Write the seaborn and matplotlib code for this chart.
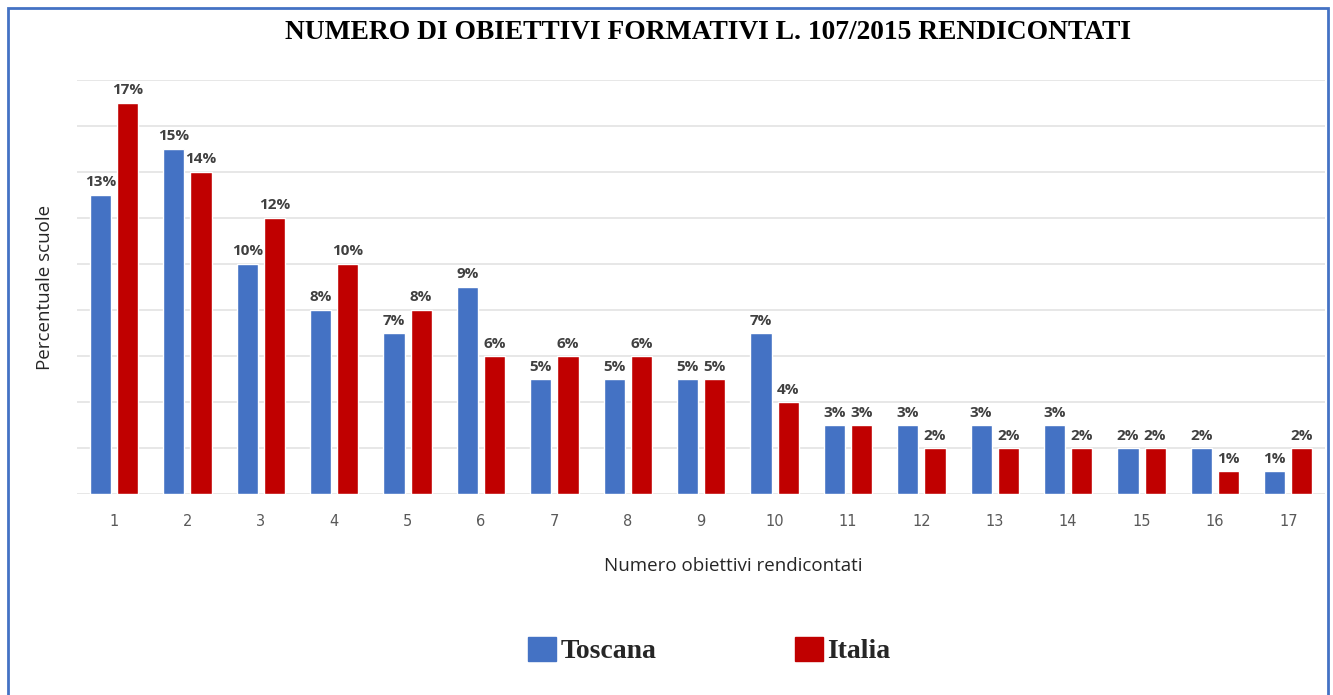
import matplotlib
matplotlib.use('Agg')
import matplotlib.pyplot as plt
import matplotlib.patches as mpatches
import seaborn as sns
import numpy as np
import pandas as pd

# data
obiettivi = [str(i) for i in range(1, 18)]
toscana = [13, 15, 10, 8, 7, 9, 5, 5, 5, 7, 3, 3, 3, 3, 2, 2, 1]
italia = [17, 14, 12, 10, 8, 6, 6, 6, 5, 4, 3, 2, 2, 2, 2, 1, 2]
serie = ['Toscana', 'Italia']
colori = ['#4472C4', '#C00000']

df = pd.DataFrame({
    'obiettivi': obiettivi * 2,
    'valore': toscana + italia,
    'serie': ['Toscana'] * len(toscana) + ['Italia'] * len(italia),
})

sns.set_style('white')
plt.rcParams['font.family'] = ['DejaVu Sans']

fig = plt.figure(figsize=(13.33, 6.95), dpi=100)
ax = fig.add_axes([0.058, 0.289, 0.936, 0.596])

sns.barplot(data=df, x='obiettivi', y='valore', hue='serie',
            hue_order=serie, palette=colori, width=0.74, gap=0.22,
            order=obiettivi, ax=ax, legend=False, saturation=1)

for cont in ax.containers:
    ax.bar_label(cont, labels=[f'{v:.0f}%' for v in cont.datavalues],
                 padding=4, fontsize=11, fontweight='bold', color='#404040',
                 family='Open Sans')

ax.set_ylim(0, 18)
ax.set_yticks(np.arange(0, 19, 2))
ax.set_yticklabels([])
ax.tick_params(axis='y', length=0)
ax.tick_params(axis='x', length=0, labelsize=10.5, labelcolor='#595959', pad=14)
ax.yaxis.grid(True, color='#e3e3e3', linewidth=1.2)
ax.set_axisbelow(True)
for s in ax.spines.values():
    s.set_visible(False)
ax.set_xlim(-0.5, 16.5)

ax.set_xlabel('Numero obiettivi rendicontati', fontsize=13.5, color='#262626',
              family='Open Sans')
ax.set_ylabel('Percentuale scuole', fontsize=13.5, color='#262626',
              family='Open Sans')
ax.xaxis.set_label_coords(0.526, -0.152)
ax.yaxis.set_label_coords(-0.019, 0.5)

fig.text(0.531, 0.953, 'NUMERO DI OBIETTIVI FORMATIVI L. 107/2015 RENDICONTATI',
         ha='center', va='center', fontsize=19.8, fontweight='bold',
         family='Liberation Serif', color='black')

handles = [mpatches.Patch(color=c, label=s) for s, c in zip(serie, colori)]
fig.legend(handles=handles, loc='center', bbox_to_anchor=(0.532, 0.064),
           ncol=2, frameon=False, handlelength=1.0, handleheight=1.0,
           handletextpad=0.15, columnspacing=5.0,
           prop={'family': 'Liberation Serif', 'weight': 'bold', 'size': 20})

# outer blue frame
fig.patches.append(mpatches.Rectangle((0.006, -0.01), 0.99, 0.998,
                                      transform=fig.transFigure, fill=False,
                                      edgecolor='#4472C4', linewidth=2))

fig.savefig('out.png', dpi=100)
